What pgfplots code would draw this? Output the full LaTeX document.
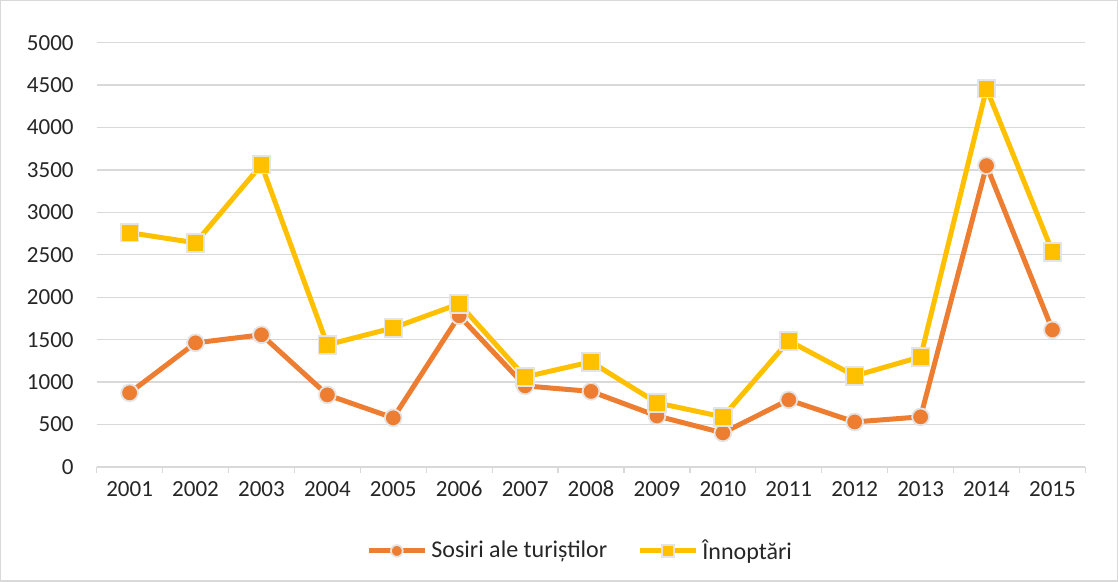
\documentclass[border=0pt]{standalone}
\usepackage{pgfplots}
\pgfplotsset{compat=1.18}
\usepackage{fontspec}
\setmainfont{Carlito}
\definecolor{sosiri}{HTML}{ED7D31}
\definecolor{innopt}{HTML}{FFC000}
\definecolor{gridc}{HTML}{D9D9D9}
\definecolor{markedge}{HTML}{E4E4E4}
\definecolor{txt}{HTML}{262626}

\begin{document}
\begin{tikzpicture}
\begin{axis}[
  scale only axis,
  width=494pt, height=212pt,
  xmin=-0.5, xmax=14.5, ymin=0, ymax=5000,
  xtick={0,...,14},
  xticklabels={2001,2002,2003,2004,2005,2006,2007,2008,2009,2010,2011,2012,2013,2014,2015},
  minor xtick={-0.5,0.5,...,14.5},
  ytick={0,500,...,5000},
  axis lines*=left,
  x axis line style={gridc, line width=0.6pt, -},
  y axis line style={draw=none, -},
  xtick pos=bottom, ytick pos=left, tick align=outside,
  major tick length=0pt, minor tick length=3pt,
  minor tick style={gridc, line width=0.6pt},
  ymajorgrids, grid style={gridc, line width=0.6pt},
  yticklabel style={font=\fontsize{11.5}{13}\selectfont, text=txt, xshift=-8pt},
  xticklabel style={font=\fontsize{11.5}{13}\selectfont, text=txt, yshift=-3pt,
    text height=8pt, text depth=0pt},
  /pgf/number format/assume math mode=true,
  /pgf/number format/set thousands separator={},
  clip=false,
  legend columns=2,
  legend style={at={(0.49,-0.198)}, anchor=center, draw=none, fill=none,
    font=\fontsize{12}{14}\selectfont, text=txt,
    /tikz/every even column/.append style={column sep=13pt}},
  legend image code/.code={
    \draw[#1, every mark/.append style={scale=0.7}, mark repeat=2, mark phase=2]
      plot coordinates {(0pt,0pt) (14pt,0pt) (28pt,0pt)};
  },
]
\addplot[sosiri, line width=2.5pt, mark=*, mark size=4.2pt,
  mark options={fill=sosiri, draw=markedge, line width=0.9pt}]
  coordinates {(0,873) (1,1462) (2,1557) (3,849) (4,578) (5,1781) (6,955) (7,890)
    (8,601) (9,401) (10,790) (11,530) (12,590) (13,3550) (14,1615)};
\addlegendentry{Sosiri ale turiștilor}
\addplot[innopt, line width=2.5pt, mark=square*, mark size=4.4pt,
  mark options={fill=innopt, draw=markedge, line width=0.9pt}]
  coordinates {(0,2760) (1,2641) (2,3561) (3,1439) (4,1639) (5,1922) (6,1061) (7,1238)
    (8,755) (9,590) (10,1486) (11,1073) (12,1297) (13,4458) (14,2535)};
\addlegendentry{Înnoptări}
\end{axis}
\draw[gridc, line width=0.6pt]
  ([xshift=-48pt,yshift=-57pt]current axis.south west) rectangle
  ([xshift=16pt,yshift=21pt]current axis.north east);
\end{tikzpicture}
\end{document}
